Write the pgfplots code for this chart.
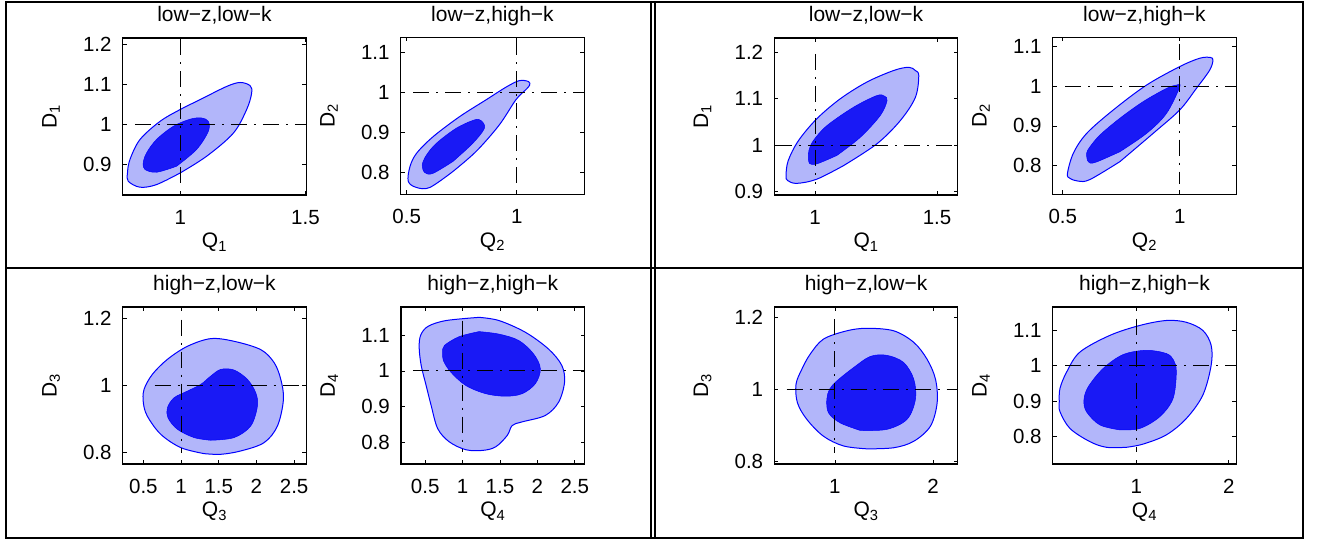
\documentclass[border=0pt]{standalone}
\usepackage{fontspec}
\setmainfont{Liberation Sans}
\usepackage{pgfplots}
\pgfplotsset{compat=1.18}
\definecolor{lightc}{RGB}{178,182,250}
\definecolor{darkc}{RGB}{25,25,245}
\pgfplotsset{
  every axis title shift=0pt,
  panel/.style={
    scale only axis, width=183.5pt, height=157pt, anchor=south west,
    axis line style={line width=1.2pt, black},
    tick align=inside, major tick length=4pt,
    every tick/.style={black, line width=0.7pt},
    font=\fontsize{20.5}{24}\selectfont,
    title style={at={(axis description cs:0.5,1.102)}, anchor=base, inner sep=0pt, font=\fontsize{21}{25}\selectfont},
    xlabel style={at={(axis description cs:0.5,-0.3376)}, anchor=base, inner sep=0pt, font=\fontsize{21}{25}\selectfont},
    ylabel style={at={(axis description cs:-0.36,0.5)}, anchor=base, inner sep=0pt, font=\fontsize{21}{25}\selectfont},
    xticklabel style={anchor=north, inner sep=0pt, yshift=-15pt},
    yticklabel style={anchor=east, inner sep=0pt, xshift=-11pt},
  },
  ref/.style={black, line width=0.8pt, dash pattern=on 16pt off 7pt on 2pt off 7pt},
  outerc/.style={draw=blue, fill=lightc, line width=1pt, smooth, tension=0.55},
  innerc/.style={draw=blue, fill=darkc, line width=0.5pt, smooth, tension=0.55},
}
\begin{document}
\begin{tikzpicture}
\path[use as bounding box] (0pt,0pt) rectangle (1322pt,540pt);
\draw[line width=2pt] (6pt,2.3pt) rectangle (1303.3pt,538.3pt);
\draw[line width=1.5pt] (651pt,2.3pt) -- (651pt,538.3pt);
\draw[line width=1.5pt] (655pt,2.3pt) -- (655pt,538.3pt);
\draw[line width=2pt] (6pt,271.7pt) -- (1303.3pt,271.7pt);

% Panel 1
\begin{axis}[panel, at={(122.7pt,345pt)},
  xmin=0.77, xmax=1.503, ymin=0.823, ymax=1.2165,
  xtick={1,1.5}, xticklabels={1,1.5},
  ytick={0.9,1,1.1,1.2}, yticklabels={0.9,1,1.1,1.2},
  title={low\textminus z,low\textminus k}, xlabel={Q\textsubscript{1}}, ylabel={D\textsubscript{1}}]
\addplot[outerc] coordinates {(0.999,0.878) (1.105,0.92) (1.212,0.978) (1.265,1.037) (1.285,1.078) (1.279,1.097) (1.239,1.105) (1.185,1.095) (1.079,1.062) (0.999,1.037) (0.919,1.0075) (0.839,0.962) (0.799,0.912) (0.789,0.878) (0.792,0.8575) (0.839,0.8425) (0.905,0.849) (0.999,0.878)};
\addplot[innerc] coordinates {(0.985,0.895) (1.065,0.937) (1.112,0.9825) (1.112,1.0075) (1.085,1.016) (1.039,1.013) (0.972,0.995) (0.905,0.962) (0.865,0.928) (0.852,0.903) (0.859,0.887) (0.905,0.88) (0.985,0.895)};
\addplot[ref] coordinates {(1,1.213) (1,0.853)};
\addplot[ref] coordinates {(0.819,1) (1.503,1)};
\end{axis}

% Panel 2
\begin{axis}[panel, at={(400.7pt,345.7pt)},
  xmin=0.473, xmax=1.306, ymin=0.745, ymax=1.1375,
  xtick={0.5,1}, xticklabels={0.5,1},
  ytick={0.8,0.9,1,1.1}, yticklabels={0.8,0.9,1,1.1},
  title={low\textminus z,high\textminus k}, xlabel={Q\textsubscript{2}}, ylabel={D\textsubscript{2}}]
\addplot[outerc] coordinates {(0.71,0.802) (0.815,0.852) (0.920,0.918) (0.9955,0.981) (1.04,1.006) (1.0586,1.018) (1.0525,1.027) (1.0105,1.029) (0.950,1.0125) (0.860,0.981) (0.740,0.939) (0.620,0.889) (0.545,0.8475) (0.515,0.814) (0.5075,0.777) (0.545,0.762) (0.605,0.762) (0.71,0.802)};
\addplot[innerc] coordinates {(0.710,0.827) (0.800,0.8725) (0.853,0.91) (0.838,0.929) (0.808,0.931) (0.725,0.91) (0.635,0.8725) (0.590,0.843) (0.5706,0.818) (0.583,0.799) (0.620,0.7975) (0.710,0.827)};
\addplot[ref] coordinates {(1,1.1325) (1,0.7475)};
\addplot[ref] coordinates {(0.53,1) (1.306,1)};
\end{axis}

% Panel 3
\begin{axis}[panel, at={(774.3pt,345pt)},
  xmin=0.833, xmax=1.585, ymin=0.893, ymax=1.231,
  xtick={1,1.5}, xticklabels={1,1.5},
  ytick={0.9,1,1.1,1.2}, yticklabels={0.9,1,1.1,1.2},
  title={low\textminus z,low\textminus k}, xlabel={Q\textsubscript{1}}, ylabel={D\textsubscript{1}}]
\addplot[outerc] coordinates {(1.116,0.956) (1.253,1.003) (1.349,1.053) (1.411,1.103) (1.425,1.150) (1.411,1.161) (1.384,1.168) (1.322,1.161) (1.212,1.136) (1.103,1.100) (1.007,1.057) (0.932,1.010) (0.890,0.967) (0.881,0.9346) (0.888,0.924) (0.925,0.918) (1.007,0.927) (1.116,0.956)};
\addplot[innerc] coordinates {(1.089,0.978) (1.185,1.017) (1.267,1.064) (1.295,1.096) (1.284,1.106) (1.253,1.107) (1.158,1.082) (1.048,1.042) (0.993,1.010) (0.975,0.989) (0.973,0.974) (0.977,0.961) (1.007,0.960) (1.089,0.978)};
\addplot[ref] coordinates {(1,1.197) (1,0.917)};
\addplot[ref] coordinates {(0.84,1) (1.585,1)};
\end{axis}

% Panel 4
\begin{axis}[panel, at={(1052.7pt,345.7pt)},
  xmin=0.457, xmax=1.2415, ymin=0.728, ymax=1.1227,
  xtick={0.5,1}, xticklabels={0.5,1},
  ytick={0.8,0.9,1,1.1}, yticklabels={0.8,0.9,1,1.1},
  title={low\textminus z,high\textminus k}, xlabel={Q\textsubscript{2}}, ylabel={D\textsubscript{2}}]
\addplot[outerc] coordinates {(0.744,0.810) (0.886,0.881) (1.0,0.940) (1.071,0.994) (1.128,1.040) (1.142,1.065) (1.131,1.072) (1.085,1.070) (1.0,1.049) (0.858,1.0025) (0.716,0.940) (0.602,0.881) (0.545,0.831) (0.520,0.780) (0.531,0.768) (0.567,0.761) (0.616,0.765) (0.744,0.810)};
\addplot[innerc] coordinates {(0.744,0.835) (0.858,0.881) (0.943,0.931) (1.0,0.998) (0.986,1.0025) (0.943,0.994) (0.844,0.961) (0.744,0.919) (0.659,0.877) (0.616,0.847) (0.602,0.831) (0.609,0.810) (0.638,0.808) (0.744,0.835)};
\addplot[ref] coordinates {(1,1.107) (1,0.755)};
\addplot[ref] coordinates {(0.51,1) (1.2415,1)};
\end{axis}

% Panel 5
\begin{axis}[panel, at={(122.7pt,76pt)},
  xmin=0.226, xmax=2.66, ymin=0.765, ymax=1.2346,
  xtick={0.5,1,1.5,2,2.5}, xticklabels={0.5,1,1.5,2,2.5},
  ytick={0.8,1,1.2}, yticklabels={0.8,1,1.2},
  title={high\textminus z,low\textminus k}, xlabel={Q\textsubscript{3}}, ylabel={D\textsubscript{3}}]
\addplot[outerc] coordinates {(1.305,0.796) (1.527,0.794) (1.792,0.804) (2.102,0.829) (2.279,0.879) (2.358,0.958) (2.323,1.018) (2.235,1.068) (2.058,1.107) (1.704,1.132) (1.394,1.140) (1.084,1.117) (0.819,1.078) (0.619,1.033) (0.509,0.988) (0.5,0.948) (0.553,0.908) (0.730,0.854) (0.996,0.814) (1.305,0.796)};
\addplot[innerc] coordinates {(1.394,0.836) (1.704,0.844) (1.925,0.879) (2.013,0.938) (1.991,0.978) (1.881,1.018) (1.704,1.046) (1.527,1.048) (1.394,1.028) (1.261,1.003) (1.084,0.983) (0.907,0.963) (0.819,0.933) (0.827,0.903) (0.951,0.869) (1.173,0.844) (1.394,0.836)};
\addplot[ref] coordinates {(1,1.197) (1,0.799)};
\addplot[ref] coordinates {(0.65,1) (2.66,1)};
\end{axis}

% Panel 6
\begin{axis}[panel, at={(401pt,76pt)},
  xmin=0.177, xmax=2.63, ymin=0.739, ymax=1.179,
  xtick={0.5,1,1.5,2,2.5}, xticklabels={0.5,1,1.5,2,2.5},
  ytick={0.8,0.9,1,1.1}, yticklabels={0.8,0.9,1,1.1},
  title={high\textminus z,high\textminus k}, xlabel={Q\textsubscript{4}}, ylabel={D\textsubscript{4}}]
\addplot[outerc] coordinates {(1.221,1.150) (1.487,1.141) (1.841,1.108) (2.150,1.061) (2.327,1.015) (2.363,0.968) (2.283,0.912) (2.106,0.875) (1.796,0.857) (1.664,0.847) (1.597,0.819) (1.442,0.787) (1.265,0.777) (1.044,0.779) (0.823,0.801) (0.668,0.838) (0.580,0.903) (0.513,0.959) (0.447,1.015) (0.420,1.065) (0.440,1.100) (0.540,1.125) (0.779,1.141) (1.221,1.150)};
\addplot[innerc] coordinates {(1.221,1.110) (1.487,1.103) (1.752,1.085) (1.951,1.047) (2.04,1.006) (1.973,0.964) (1.796,0.936) (1.575,0.929) (1.310,0.936) (1.044,0.959) (0.845,0.996) (0.743,1.029) (0.735,1.052) (0.757,1.071) (0.956,1.096) (1.221,1.110)};
\addplot[ref] coordinates {(1,1.141) (1,0.773)};
\addplot[ref] coordinates {(0.336,1) (2.63,1)};
\end{axis}

% Panel 7
\begin{axis}[panel, at={(774.3pt,76pt)},
  xmin=0.384, xmax=2.251, ymin=0.794, ymax=1.229,
  xtick={1,2}, xticklabels={1,2},
  ytick={0.8,1,1.2}, yticklabels={0.8,1,1.2},
  title={high\textminus z,low\textminus k}, xlabel={Q\textsubscript{3}}, ylabel={D\textsubscript{3}}]
\addplot[outerc] coordinates {(1.327,0.836) (1.599,0.839) (1.803,0.857) (1.973,0.899) (2.041,0.964) (2.024,1.029) (1.939,1.084) (1.803,1.131) (1.599,1.163) (1.327,1.170) (1.122,1.163) (0.884,1.140) (0.748,1.098) (0.663,1.056) (0.605,1.015) (0.619,0.964) (0.714,0.918) (0.884,0.871) (1.088,0.844) (1.327,0.836)};
\addplot[innerc] coordinates {(1.259,0.887) (1.531,0.890) (1.735,0.918) (1.820,0.973) (1.803,1.029) (1.701,1.075) (1.531,1.095) (1.361,1.092) (1.190,1.061) (1.020,1.024) (0.946,1.001) (0.918,0.973) (0.935,0.936) (1.054,0.908) (1.259,0.887)};
\addplot[ref] coordinates {(1,1.195) (1,0.825)};
\addplot[ref] coordinates {(0.51,1) (2.251,1)};
\end{axis}

% Panel 8
\begin{axis}[panel, at={(1052.7pt,76pt)},
  xmin=0.094, xmax=2.08, ymin=0.723, ymax=1.165,
  xtick={1,2}, xticklabels={1,2},
  ytick={0.8,0.9,1,1.1}, yticklabels={0.8,0.9,1,1.1},
  title={high\textminus z,high\textminus k}, xlabel={Q\textsubscript{4}}, ylabel={D\textsubscript{4}}]
\addplot[outerc] coordinates {(0.892,0.770) (1.072,0.779) (1.324,0.805) (1.540,0.851) (1.719,0.917) (1.809,1.001) (1.809,1.057) (1.719,1.099) (1.540,1.122) (1.324,1.127) (1.036,1.113) (0.712,1.085) (0.388,1.038) (0.245,0.982) (0.173,0.936) (0.165,0.898) (0.173,0.870) (0.281,0.823) (0.496,0.786) (0.676,0.770) (0.892,0.770)};
\addplot[innerc] coordinates {(0.820,0.819) (1.036,0.823) (1.252,0.856) (1.396,0.907) (1.432,0.982) (1.403,1.015) (1.324,1.034) (1.108,1.043) (0.856,1.031) (0.640,0.992) (0.478,0.940) (0.432,0.903) (0.460,0.870) (0.604,0.833) (0.820,0.819)};
\addplot[ref] coordinates {(1,1.132) (1,0.758)};
\addplot[ref] coordinates {(0.227,1) (2.08,1)};
\end{axis}
\end{tikzpicture}
\end{document}
